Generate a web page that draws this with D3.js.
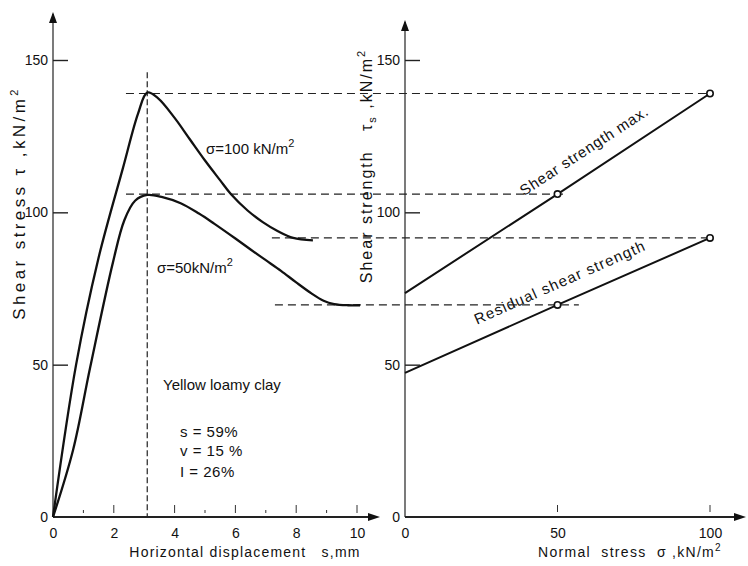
<!DOCTYPE html>
<html><head><meta charset="utf-8">
<script src="https://cdn.jsdelivr.net/npm/d3@7/dist/d3.min.js"></script>
<style>
body{margin:0;background:#fff;}
text{font-family:"Liberation Sans",Arial,sans-serif;fill:#111;white-space:pre;}
</style></head>
<body><svg id="c" width="748" height="566"></svg>
<script>
// ---- data ----
const dispTicks = [0, 2, 4, 6, 8, 10];
const dispMinor = [1, 2, 4, 5, 6, 7, 8, 9, 10];
const stressTicks = [0, 50, 100, 150];
const normalTicks = [0, 50, 100];
// shear stress vs displacement, sigma = 100 kN/m2
const s100x = [0, 0.76, 1.48, 2.3, 2.8, 3.1, 3.45, 4.0, 4.5, 5.0, 5.5, 5.85, 6.4, 6.9, 7.4, 7.9, 8.55];
const s100y = [0, 50, 84.3, 114.5, 132.5, 139.3, 137.5, 131, 124, 117, 110.5, 106, 100.6, 96.8, 93.8, 91.6, 90.8];
// sigma = 50 kN/m2
const s50x = [0, 0.66, 1.22, 1.97, 2.35, 2.7, 3.1, 3.6, 4.2, 4.8, 5.3, 6.0, 6.5, 7.0, 7.5, 8.0, 8.5, 8.9, 9.25, 9.7, 10.1];
const s50y = [0, 22, 49, 83.5, 97.5, 103.8, 105.7, 105, 103, 99.6, 96.3, 91.4, 87.8, 84.3, 80.8, 77, 73.4, 71, 69.9, 69.5, 69.5];
// shear strength vs normal stress
const normalStress = [0, 50, 100];
const maxStrength = [73.5, 106, 139];
const residualStrength = [47.3, 69.6, 91.6];
const peakDisp = 3.1;

const svg = d3.select("#c");
const xL = d3.scaleLinear([0, 10], [53, 357]);
const xR = d3.scaleLinear([0, 100], [405, 710]);
const y = d3.scaleLinear([0, 150], [517, 60]);

const dash = "8,5";
const g = svg.append("g");

// dashed guide lines
function hdash(x1, x2, v) {
  g.append("line").attr("x1", x1).attr("x2", x2).attr("y1", y(v)).attr("y2", y(v))
    .attr("stroke", "#222").attr("stroke-width", 1.2).attr("stroke-dasharray", dash);
}
hdash(xL(2.4), xR(100), maxStrength[2]);
hdash(xL(2.4), xR(52), maxStrength[1]);
hdash(xL(7.2), xR(100), residualStrength[2]);
hdash(xL(7.3), xR(57), residualStrength[1]);
g.append("line").attr("x1", xL(peakDisp)).attr("x2", xL(peakDisp))
  .attr("y1", y(146)).attr("y2", y(0))
  .attr("stroke", "#222").attr("stroke-width", 1.2).attr("stroke-dasharray", "6,3");

// axes lines with arrows
function arrowUp(x, yt) {
  g.append("path").attr("d", `M${x},${yt} L${x-4},${yt+11} L${x+4},${yt+11} Z`).attr("fill", "#111");
}
function arrowRight(xt, yy) {
  g.append("path").attr("d", `M${xt},${yy} L${xt-12},${yy-4} L${xt-12},${yy+4} Z`).attr("fill", "#111");
}
g.append("line").attr("x1", xL(0)).attr("x2", xL(0)).attr("y1", y(0)).attr("y2", 14).attr("stroke", "#222").attr("stroke-width", 1.2);
arrowUp(xL(0), 12);
g.append("line").attr("x1", xL(0)).attr("x2", 376).attr("y1", y(0)).attr("y2", y(0)).attr("stroke", "#222").attr("stroke-width", 1.8);
arrowRight(380, y(0));
g.append("line").attr("x1", xR(0)).attr("x2", xR(0)).attr("y1", y(0)).attr("y2", 22).attr("stroke", "#222").attr("stroke-width", 1.2);
arrowUp(xR(0), 20);
g.append("line").attr("x1", xR(0)).attr("x2", 742).attr("y1", y(0)).attr("y2", y(0)).attr("stroke", "#222").attr("stroke-width", 1.8);
arrowRight(746, y(0));

// y axes
const fs = "15px";
function yAxis(xpos) {
  const a = g.append("g").attr("transform", `translate(${xpos},0)`)
    .call(d3.axisLeft(y).tickValues(stressTicks).tickSize(-15).tickPadding(5).tickFormat(d3.format("d")));
  a.select(".domain").remove();
  a.selectAll(".tick line").attr("stroke", "#222").attr("stroke-width", 1.4)
    .filter(d => d === 0).remove();
  a.selectAll("text").style("font-size", "14px").style("font-family", "Liberation Sans").attr("fill", "#111");
}
yAxis(xL(0));
yAxis(xR(0));

// x axes
function xAxis(scale, ticks) {
  const a = g.append("g").attr("transform", `translate(0,${y(0)})`)
    .call(d3.axisBottom(scale).tickValues(ticks).tickSize(0).tickPadding(11).tickFormat(d3.format("d")));
  a.select(".domain").remove();
  a.selectAll("text").style("font-size", "14px").style("font-family", "Liberation Sans").attr("fill", "#111");
}
xAxis(xL, dispTicks);
xAxis(xR, normalTicks);

// small tick marks above x axes
dispMinor.forEach(d => {
  const tall = d % 2 === 0;
  g.append("line").attr("x1", xL(d)).attr("x2", xL(d))
    .attr("y1", y(0) - (tall ? 12 : 7)).attr("y2", y(0) - 4)
    .attr("stroke", "#333").attr("stroke-width", 1);
});
[50, 100].forEach(d => {
  g.append("line").attr("x1", xR(d)).attr("x2", xR(d))
    .attr("y1", y(0) - 12).attr("y2", y(0) - 5).attr("stroke", "#333").attr("stroke-width", 1);
});

// curves
const line = d3.line().curve(d3.curveCatmullRom.alpha(0.5));
g.append("path").attr("d", line(s100x.map((v, i) => [xL(v), y(s100y[i])])))
  .attr("fill", "none").attr("stroke", "#111").attr("stroke-width", 2.3);
g.append("path").attr("d", line(s50x.map((v, i) => [xL(v), y(s50y[i])])))
  .attr("fill", "none").attr("stroke", "#111").attr("stroke-width", 2.3);

// right lines
const lin = d3.line();
g.append("path").attr("d", lin(normalStress.map((v, i) => [xR(v), y(maxStrength[i])])))
  .attr("fill", "none").attr("stroke", "#111").attr("stroke-width", 2);
g.append("path").attr("d", lin(normalStress.map((v, i) => [xR(v), y(residualStrength[i])])))
  .attr("fill", "none").attr("stroke", "#111").attr("stroke-width", 2);
[maxStrength, residualStrength].forEach(arr => {
  [1, 2].forEach(i => {
    g.append("circle").attr("cx", xR(normalStress[i])).attr("cy", y(arr[i])).attr("r", 3.2)
      .attr("fill", "#fff").attr("stroke", "#111").attr("stroke-width", 1.6);
  });
});

// texts
function txt(x, yy, s, opts = {}) {
  const t = g.append("text").attr("x", x).attr("y", yy).style("font-size", opts.size || fs);
  if (s) t.text(s);
  if (opts.anchor) t.attr("text-anchor", opts.anchor);
  if (opts.rot !== undefined) t.attr("transform", `rotate(${opts.rot},${x},${yy})`);
  return t;
}
// axis titles
let t = txt(25, 203, "", { anchor: "middle", rot: -90, size: "17px" });
t.append("tspan").text("Shear stress τ ,kN/m");
t.append("tspan").attr("dy", -7).style("font-size", "11px").text("2");
t.attr("letter-spacing", "3.4px");

t = txt(372, 166, "", { anchor: "middle", rot: -90, size: "16px" });
t.append("tspan").text("Shear strength   τ");
t.append("tspan").attr("dy", 4).style("font-size", "11px").text("s");
t.append("tspan").attr("dy", -4).text(" ,kN/m");
t.append("tspan").attr("dy", -7).style("font-size", "11px").text("2");
t.attr("letter-spacing", "2px");

txt(245, 557, "Horizontal displacement   s,mm", { anchor: "middle", size: "14px" }).attr("letter-spacing", "1.2px");
t = txt(630, 557, "", { anchor: "middle", size: "14px" });
t.append("tspan").text("Normal  stress  σ ,kN/m");
t.append("tspan").attr("dy", -6).style("font-size", "10px").text("2");
t.attr("letter-spacing", "1.3px");

// curve labels
t = txt(206, 154, "");
t.append("tspan").text("σ=100 kN/m");
t.append("tspan").attr("dy", -7).style("font-size", "11px").text("2");
t = txt(157, 273, "");
t.append("tspan").text("σ=50kN/m");
t.append("tspan").attr("dy", -7).style("font-size", "11px").text("2");

txt(163, 390, "Yellow loamy clay");
txt(180, 437, "s = 59%").attr("letter-spacing", "0.5px");
txt(180, 456, "v = 15 %").attr("letter-spacing", "0.5px");
txt(180, 477, "I = 26%").attr("letter-spacing", "0.5px");

// line labels along slopes
const angMax = Math.atan2(y(maxStrength[2]) - y(maxStrength[0]), xR(100) - xR(0)) * 180 / Math.PI;
const angRes = Math.atan2(y(residualStrength[2]) - y(residualStrength[0]), xR(100) - xR(0)) * 180 / Math.PI;
txt(587, 155, "Shear strength max.", { anchor: "middle", rot: angMax }).attr("letter-spacing", "0.8px");
txt(562, 287, "Residual shear strength", { anchor: "middle", rot: angRes }).attr("letter-spacing", "1.2px");
</script></body></html>
